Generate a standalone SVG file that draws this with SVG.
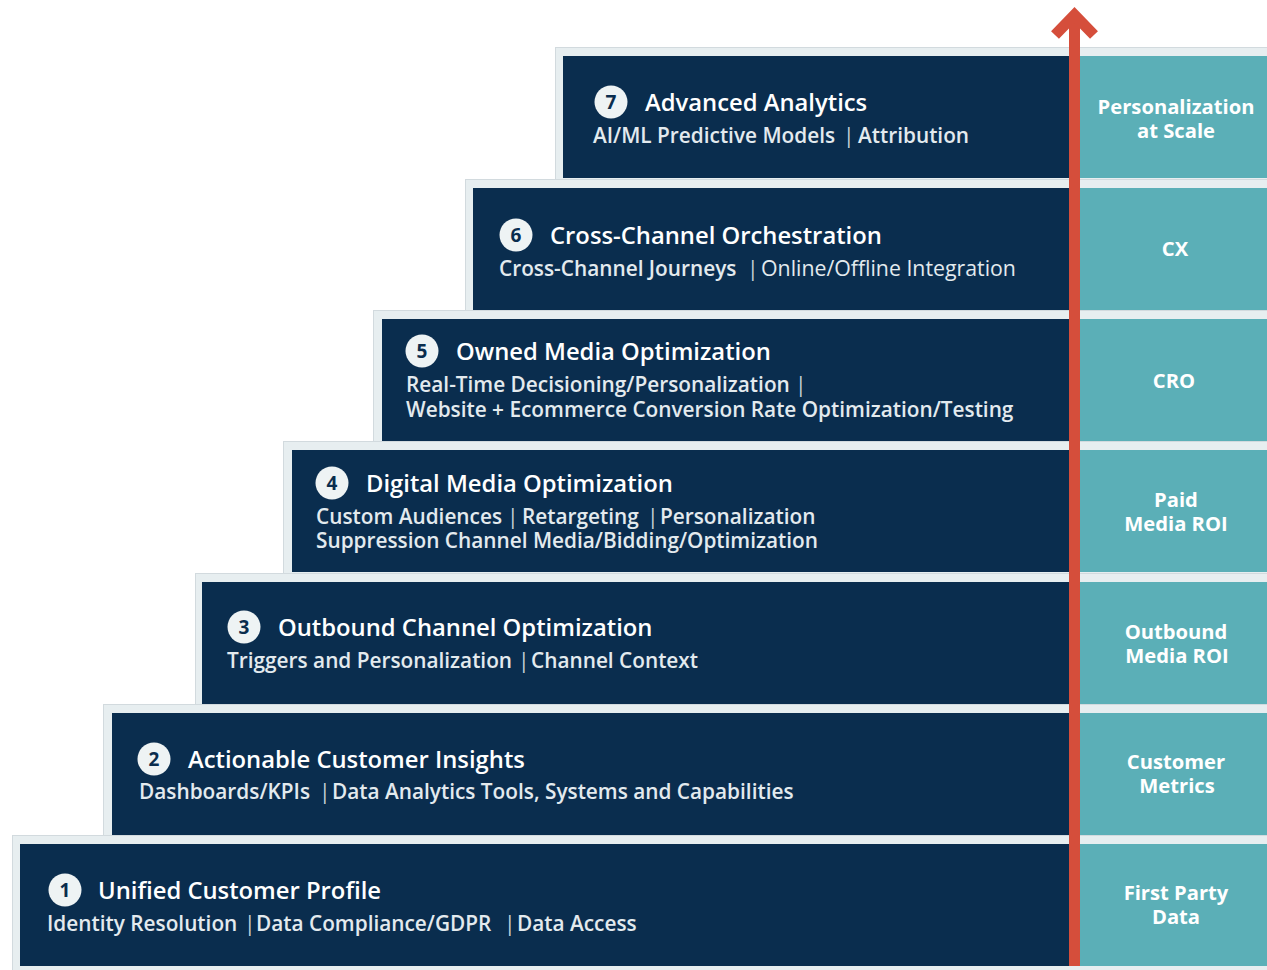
<svg xmlns="http://www.w3.org/2000/svg" width="1267" height="970" viewBox="0 0 1267 970">
<style>
.back{fill:#e7eef0;stroke:#d2dade;stroke-width:1}
.navy{fill:#0a2d4e}
.teal{fill:#5bafb7}
.num{fill:#eef3f4}
.numt{font-family:"Open Sans",sans-serif;font-weight:700;font-size:19px;fill:#0a2d4e;text-anchor:middle}
.title{font-family:"Open Sans",sans-serif;font-weight:600;font-size:23.8px;fill:#ffffff}
.sub{font-family:"Open Sans",sans-serif;font-weight:600;font-size:20.8px;fill:#e3eaee}
.r{font-weight:400;font-size:21.3px}
.bar{font-weight:400;font-size:21px;fill:#c9d3da}
.lab{font-family:"Open Sans",sans-serif;font-weight:700;font-size:20.2px;fill:#ffffff;text-anchor:middle}
</style>
<rect x="0" y="0" width="1267" height="970" fill="#ffffff"/>
<g id="backings">
<rect class="back" x="555.5" y="47.5" width="720" height="150"/>
<rect class="back" x="465.5" y="179.5" width="810" height="150"/>
<rect class="back" x="373.5" y="310.5" width="900" height="150"/>
<rect class="back" x="283.5" y="441.5" width="990" height="150"/>
<rect class="back" x="195.5" y="573.5" width="1080" height="150"/>
<rect class="back" x="103.5" y="704.5" width="1170" height="150"/>
<rect class="back" x="12.5" y="835.5" width="1260" height="150"/>
</g>
<g id="step7">
<rect class="navy" x="563" y="56" width="507" height="122"/>
<rect class="teal" x="1080" y="56" width="187" height="122"/>
<circle class="num" cx="611" cy="102" r="16.5"/>
<text class="numt" x="611" y="109">7</text>
<text class="title" x="645" y="111">Advanced Analytics</text>
<text class="sub" x="593" y="143">AI/ML Predictive Models<tspan class="bar" x="843">|</tspan><tspan x="858">Attribution</tspan></text>
<text class="lab" x="1176" y="114">Personalization</text>
<text class="lab" x="1176" y="138">at Scale</text>
</g>
<g id="step6">
<rect class="navy" x="473" y="188" width="597" height="122"/>
<rect class="teal" x="1080" y="188" width="187" height="122"/>
<circle class="num" cx="516" cy="235" r="16.5"/>
<text class="numt" x="516" y="242">6</text>
<text class="title" x="550" y="244">Cross-Channel Orchestration</text>
<text class="sub" x="499" y="276">Cross-Channel Journeys<tspan class="bar" x="747">|</tspan><tspan class="r" x="761">Online/Offline Integration</tspan></text>
<text class="lab" x="1175" y="256">CX</text>
</g>
<g id="step5">
<rect class="navy" x="382" y="319" width="688" height="122"/>
<rect class="teal" x="1080" y="319" width="187" height="122"/>
<circle class="num" cx="422" cy="351" r="16.5"/>
<text class="numt" x="422" y="358">5</text>
<text class="title" x="456" y="360">Owned Media Optimization</text>
<text class="sub" x="406" y="392">Real-Time Decisioning/Personalization<tspan class="bar" x="795">|</tspan></text>
<text class="sub" x="406" y="417">Website + Ecommerce Conversion Rate Optimization/Testing</text>
<text class="lab" x="1174" y="388">CRO</text>
</g>
<g id="step4">
<rect class="navy" x="292" y="450" width="778" height="122"/>
<rect class="teal" x="1080" y="450" width="187" height="122"/>
<circle class="num" cx="332" cy="483" r="16.5"/>
<text class="numt" x="332" y="490">4</text>
<text class="title" x="366" y="492">Digital Media Optimization</text>
<text class="sub" x="316" y="524">Custom Audiences<tspan class="bar" x="507">|</tspan><tspan x="522">Retargeting</tspan><tspan class="bar" x="647">|</tspan><tspan x="660">Personalization</tspan></text>
<text class="sub" x="316" y="548">Suppression Channel Media/Bidding/Optimization</text>
<text class="lab" x="1176" y="507">Paid</text>
<text class="lab" x="1176" y="531">Media ROI</text>
</g>
<g id="step3">
<rect class="navy" x="202" y="582" width="868" height="122"/>
<rect class="teal" x="1080" y="582" width="187" height="122"/>
<circle class="num" cx="244" cy="627" r="16.5"/>
<text class="numt" x="244" y="634">3</text>
<text class="title" x="278" y="636">Outbound Channel Optimization</text>
<text class="sub" x="227" y="668">Triggers and Personalization<tspan class="bar" x="518">|</tspan><tspan x="531">Channel Context</tspan></text>
<text class="lab" x="1176" y="639">Outbound</text>
<text class="lab" x="1177" y="663">Media ROI</text>
</g>
<g id="step2">
<rect class="navy" x="112" y="713" width="958" height="122"/>
<rect class="teal" x="1080" y="713" width="187" height="122"/>
<circle class="num" cx="154" cy="759" r="16.5"/>
<text class="numt" x="154" y="766">2</text>
<text class="title" x="188" y="768">Actionable Customer Insights</text>
<text class="sub" x="139" y="799">Dashboards/KPIs<tspan class="bar" x="319">|</tspan><tspan x="332">Data Analytics Tools, Systems and Capabilities</tspan></text>
<text class="lab" x="1176" y="769">Customer</text>
<text class="lab" x="1177" y="793">Metrics</text>
</g>
<g id="step1">
<rect class="navy" x="20" y="844" width="1050" height="122"/>
<rect class="teal" x="1080" y="844" width="187" height="122"/>
<circle class="num" cx="65" cy="890" r="16.5"/>
<text class="numt" x="65" y="897">1</text>
<text class="title" x="98" y="899">Unified Customer Profile</text>
<text class="sub" x="47" y="931">Identity Resolution<tspan class="bar" x="244">|</tspan><tspan x="256">Data Compliance/GDPR</tspan><tspan class="bar" x="504">|</tspan><tspan x="517">Data Access</tspan></text>
<text class="lab" x="1176" y="900">First Party</text>
<text class="lab" x="1176" y="924">Data</text>
</g>
<g id="connectors">
<rect x="1069" y="20" width="11" height="946" fill="#d54e3b"/>
<polyline points="1055,35 1074.5,15 1094,35" fill="none" stroke="#d54e3b" stroke-width="11" stroke-linejoin="miter"/>
</g>
</svg>
